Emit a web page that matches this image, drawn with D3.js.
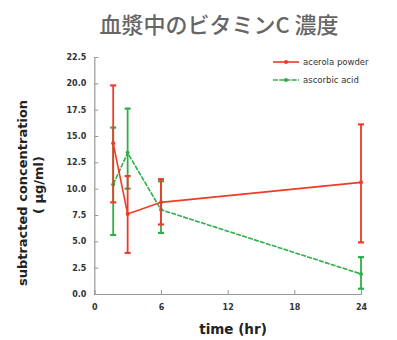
<!DOCTYPE html>
<html><head><meta charset="utf-8">
<script src="https://cdn.jsdelivr.net/npm/d3@7/dist/d3.min.js"></script>
<style>body{margin:0;background:#fff}</style>
</head><body>
<svg id="c" width="397" height="340"></svg>
<script>
const times = [1.7, 3, 6, 24];
const acerolaMean = [14.3, 7.6, 8.7, 10.6];
const acerolaHigh = [19.8, 11.2, 10.9, 16.1];
const acerolaLow  = [8.7, 3.9, 6.6, 4.9];
const ascorbicMean = [10.4, 13.4, 8.0, 1.9];
const ascorbicHigh = [15.8, 17.6, 10.7, 3.5];
const ascorbicLow  = [5.6, 10.0, 5.8, 0.5];
const xTicks = [0, 6, 12, 18, 24];
const yTicks = [0, 2.5, 5, 7.5, 10, 12.5, 15, 17.5, 20, 22.5];
const seriesNames = ["acerola powder", "ascorbic acid"];

const svg = d3.select("#c");
const x = d3.scaleLinear().domain([0, 24]).range([94.3, 361]);
const y = d3.scaleLinear().domain([0, 22.5]).range([294, 57]);
const font = "'DejaVu Sans',sans-serif";

svg.append("text").attr("x", 219).attr("y", 33).attr("text-anchor", "middle")
  .attr("font-family", "'Noto Sans CJK JP',sans-serif").attr("font-weight", 500)
  .attr("font-size", 22).attr("fill", "#666").text("血漿中のビタミンC 濃度");

const yAx = svg.append("g").attr("transform", `translate(${x(0)},0)`)
  .call(d3.axisRight(y).tickValues(yTicks).tickFormat(d3.format(".1f")).tickSize(4));
yAx.selectAll("text").attr("x", -8).attr("text-anchor", "end");
const xAx = svg.append("g").attr("transform", `translate(0,${y(0)})`)
  .call(d3.axisTop(x).tickValues(xTicks).tickSize(4));
xAx.selectAll("text").attr("y", 14).attr("dy", "0.3em");
[yAx, xAx].forEach(a => {
  a.select(".domain").attr("stroke", "#999").attr("stroke-width", 1.2);
  a.selectAll(".tick line").attr("stroke", "#999");
  a.selectAll("text").attr("font-family", font).attr("font-weight", "bold")
    .attr("font-size", 8).attr("fill", "#333");
});

svg.append("text").attr("x", 233).attr("y", 334).attr("text-anchor", "middle")
  .attr("font-family", font).attr("font-weight", "bold").attr("font-size", 13.5)
  .attr("fill", "#222").text("time (hr)");
const yl = svg.append("g").attr("transform", "translate(27,193) rotate(-90)");
yl.append("text").attr("text-anchor", "middle").attr("font-family", font)
  .attr("font-weight", "bold").attr("font-size", 13).attr("fill", "#222")
  .text("subtracted concentration");
yl.append("text").attr("x", 8).attr("y", 16).attr("text-anchor", "middle").attr("font-family", font)
  .attr("font-weight", "bold").attr("font-size", 13).attr("fill", "#222")
  .text("( μg/ml)");

const series = [
  {name: seriesNames[0], mean: acerolaMean, hi: acerolaHigh, lo: acerolaLow, color: "#ee3a26", dash: null},
  {name: seriesNames[1], mean: ascorbicMean, hi: ascorbicHigh, lo: ascorbicLow, color: "#2fae48", dash: "5,1.2"}
];
const line = d3.line().x(d => x(d.t)).y(d => y(d.v));
series.slice().reverse().forEach(s => {
  const pts = times.map((t, i) => ({t, v: s.mean[i], hi: s.hi[i], lo: s.lo[i]}));
  const g = svg.append("g");
  g.append("path").datum(pts).attr("d", line).attr("fill", "none")
    .attr("stroke", s.color).attr("stroke-width", 1.6).attr("stroke-dasharray", s.dash);
  g.selectAll(".eb").data(pts).join("line").attr("x1", d => x(d.t)).attr("x2", d => x(d.t))
    .attr("y1", d => y(d.hi)).attr("y2", d => y(d.lo)).attr("stroke", s.color).attr("stroke-width", 1.8);
  ["hi", "lo"].forEach(k => {
    g.selectAll(".cap" + k).data(pts).join("line").attr("x1", d => x(d.t) - 3).attr("x2", d => x(d.t) + 3)
      .attr("y1", d => y(d[k])).attr("y2", d => y(d[k])).attr("stroke", s.color).attr("stroke-width", 2.2);
  });
  g.selectAll("circle").data(pts).join("circle").attr("cx", d => x(d.t)).attr("cy", d => y(d.v))
    .attr("r", 2).attr("fill", s.color);
});

series.forEach((s, i) => {
  const ly = 62 + i * 18;
  svg.append("line").attr("x1", 273).attr("x2", 299).attr("y1", ly).attr("y2", ly)
    .attr("stroke", s.color).attr("stroke-width", 1.6).attr("stroke-dasharray", s.dash);
  svg.append("circle").attr("cx", 286).attr("cy", ly).attr("r", 2).attr("fill", s.color);
  svg.append("text").attr("x", 303).attr("y", ly + 3).attr("font-family", font)
    .attr("font-size", 8.5).attr("fill", "#333").text(s.name);
});
</script>
</body></html>
